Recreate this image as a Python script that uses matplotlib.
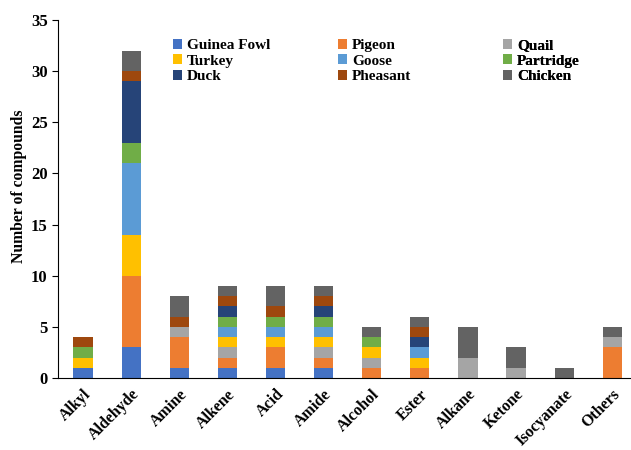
import numpy as np
import matplotlib
matplotlib.use("Agg")
import matplotlib.pyplot as plt

categories = ["Alkyl", "Aldehyde", "Amine", "Alkene", "Acid", "Amide",
              "Alcohol", "Ester", "Alkane", "Ketone", "Isocyanate", "Others"]

# counts per compound class, one list per bird
guinea_fowl = [1, 3, 1, 1, 1, 1, 0, 0, 0, 0, 0, 0]
pigeon      = [0, 7, 3, 1, 2, 1, 1, 1, 0, 0, 0, 3]
quail       = [0, 0, 1, 1, 0, 1, 1, 0, 2, 1, 0, 1]
turkey      = [1, 4, 0, 1, 1, 1, 1, 1, 0, 0, 0, 0]
goose       = [0, 7, 0, 1, 1, 1, 0, 1, 0, 0, 0, 0]
partridge   = [1, 2, 0, 1, 1, 1, 1, 0, 0, 0, 0, 0]
duck        = [0, 6, 0, 1, 0, 1, 0, 1, 0, 0, 0, 0]
pheasant    = [1, 1, 1, 1, 1, 1, 0, 1, 0, 0, 0, 0]
chicken     = [0, 2, 2, 1, 2, 1, 1, 1, 3, 2, 1, 1]

series = [
    ("Guinea Fowl", guinea_fowl, "#4472C4"),
    ("Pigeon", pigeon, "#ED7D31"),
    ("Quail", quail, "#A5A5A5"),
    ("Turkey", turkey, "#FFC000"),
    ("Goose", goose, "#5B9BD5"),
    ("Partridge", partridge, "#70AD47"),
    ("Duck", duck, "#264478"),
    ("Pheasant", pheasant, "#9E480E"),
    ("Chicken", chicken, "#636363"),
]

plt.rcParams["font.family"] = ["Liberation Serif", "DejaVu Serif"]
plt.rcParams["font.weight"] = "bold"

fig = plt.figure(figsize=(6.31, 4.5), dpi=100)
ax = fig.add_axes([0.092, 0.16, 0.908, 0.7956])

x = np.arange(len(categories))
bottom = np.zeros(len(categories))
bars = []
for name, vals, color in series:
    vals = np.array(vals, dtype=float)
    b = ax.bar(x, vals, width=0.4, bottom=bottom, color=color, label=name)
    bars.append(b)
    bottom += vals

ax.set_xlim(-0.52, 11.39)
ax.set_ylim(0, 35)
ax.set_yticks(range(0, 36, 5))
ax.set_xticks(x)
ax.set_xticklabels(categories, rotation=45, ha="right", rotation_mode="anchor",
                   fontsize=11.5, fontweight="bold")
ax.tick_params(axis="x", length=0, pad=6)
ax.tick_params(axis="y", labelsize=12, length=4, direction="out")
for lab in ax.get_yticklabels():
    lab.set_fontweight("bold")
ax.set_ylabel("Number of compounds", fontsize=11.3, fontweight="bold")
ax.yaxis.set_label_coords(-0.055, 0.536)

for side in ["top", "right"]:
    ax.spines[side].set_visible(False)

# legend in three equal-width columns, filled row by row
col_x = [0.2007, 0.4887, 0.7766]
for c in range(3):
    idx = [c, c + 3, c + 6]
    leg = ax.legend([bars[i] for i in idx], [series[i][0] for i in idx],
                    loc="upper left", bbox_to_anchor=(col_x[c], 0.947),
                    frameon=False, prop={"size": 11, "weight": "bold"},
                    handlelength=0.6, handleheight=0.6, handletextpad=0.3,
                    labelspacing=0.15, borderpad=0, borderaxespad=0)
    ax.add_artist(leg)

fig.savefig("out.png", dpi=100)
